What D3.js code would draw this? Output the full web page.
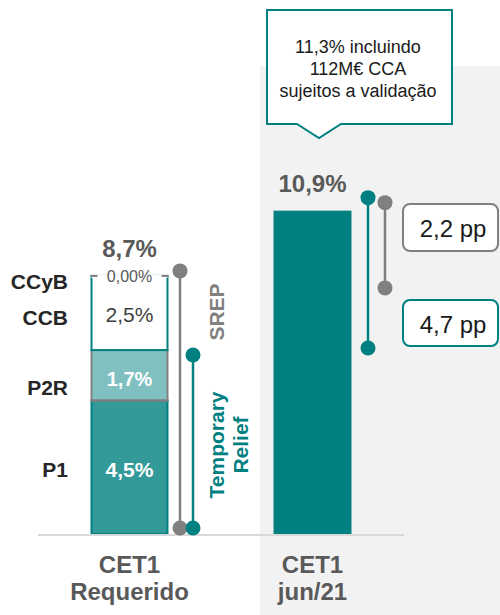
<!DOCTYPE html>
<html>
<head>
<meta charset="utf-8">
<script src="https://cdn.jsdelivr.net/npm/d3@7"></script>
<style>
  html, body { margin: 0; padding: 0; background: #fff; }
  svg { display: block; font-family: "Liberation Sans", Arial, sans-serif; }
</style>
</head>
<body>
<svg id="chart" width="500" height="615"></svg>
<script>
// Capital requirement components (CET1 Requerido), in %
const components = ["P1", "P2R", "CCB", "CCyB"];
const componentValues = [4.5, 1.7, 2.5, 0.0];
const componentLabels = ["4,5%", "1,7%", "2,5%", "0,00%"];

// Bars on the category axis
const categories = ["CET1 Requerido", "CET1 jun/21"];
const categoryLines = [["CET1", "Requerido"], ["CET1", "jun/21"]];
const actualValue = 10.9;
const totalLabels = ["8,7%", "10,9%"];

// Buffers over requirement
const bufferLabels = ["2,2 pp", "4,7 pp"];
const bufferValues = [2.2, 4.7];
const calloutLines = ["11,3% incluindo", "112M€ CCA", "sujeitos a validação"];

const TEAL = "#008080";
const GRAY = "#808080";
const svg = d3.select("#chart");

const x = d3.scaleBand().domain(categories).range([38, 404])
  .paddingInner(0.574).paddingOuter(0.287);
const y = d3.scaleLinear().domain([0, 12]).range([534, 178]);

// shaded panel behind the current CET1 bar
svg.append("rect").attr("x", 260).attr("y", 66).attr("width", 240).attr("height", 549)
  .attr("fill", "#f2f2f2");

// stacked requirement
const row = {};
components.forEach((c, i) => row[c] = componentValues[i]);
const stacked = d3.stack().keys(components)([row]);
const fills = { P1: "#339999", P2R: "#80c0c0", CCB: "#ffffff", CCyB: "none" };
const strokes = { P1: TEAL, P2R: GRAY, CCB: TEAL, CCyB: "none" };
const bx = x(categories[0]), bw = x.bandwidth();

stacked.forEach(s => {
  const d = s[0];
  if (s.key === "CCyB") return;
  svg.append("rect")
    .attr("x", bx + 1).attr("y", y(d[1]))
    .attr("width", bw - 2).attr("height", y(d[0]) - y(d[1]))
    .attr("fill", fills[s.key]).attr("stroke", strokes[s.key]).attr("stroke-width", 2);
});
// gray edge between P1 and P2R
const p2r = stacked[1][0];
svg.append("line").attr("x1", bx).attr("x2", bx + bw).attr("y1", y(p2r[0])).attr("y2", y(p2r[0]))
  .attr("stroke", GRAY).attr("stroke-width", 2);

// CCyB: zero-height segment drawn as a broken gray edge
const ccyb = stacked[3][0];
const topY = y(ccyb[1]);
svg.append("rect").attr("x", bx + 1).attr("y", topY - 1).attr("width", bw - 2).attr("height", 3).attr("fill", "#fff");
[[bx, bx + 7], [bx + bw - 7, bx + bw]].forEach(([a, b]) => {
  svg.append("line").attr("x1", a).attr("x2", b).attr("y1", topY).attr("y2", topY)
    .attr("stroke", GRAY).attr("stroke-width", 2);
});

// segment value labels
const inside = [
  { i: 0, dy: 2, color: "#fff", weight: "bold", size: 21 },
  { i: 1, dy: 4, color: "#fff", weight: "bold", size: 20 },
  { i: 2, dy: 2, color: "#404040", weight: "normal", size: 21 },
  { i: 3, dy: 1, color: "#595959", weight: "normal", size: 16 }
];
inside.forEach(o => {
  const d = stacked[o.i][0];
  svg.append("text").attr("x", bx + bw / 2).attr("y", y((d[0] + d[1]) / 2) + o.dy)
    .attr("text-anchor", "middle").attr("dominant-baseline", "central")
    .attr("fill", o.color).attr("font-weight", o.weight).attr("font-size", o.size)
    .text(componentLabels[o.i]);
});

// component names to the left
const nameDy = [2, 12, 5, 6];
components.forEach((c, i) => {
  const d = stacked[i][0];
  svg.append("text").attr("x", 68).attr("y", y((d[0] + d[1]) / 2) + nameDy[i])
    .attr("text-anchor", "end").attr("dominant-baseline", "central")
    .attr("fill", "#262626").attr("font-weight", "bold").attr("font-size", 21)
    .text(c);
});

// current CET1 bar
const total = d3.sum(componentValues);
const b2x = x(categories[1]);
svg.append("rect").attr("x", b2x).attr("y", y(actualValue))
  .attr("width", x.bandwidth()).attr("height", y(0) - y(actualValue)).attr("fill", TEAL);

// totals above bars
[[categories[0], total], [categories[1], actualValue]].forEach(([c, v], i) => {
  svg.append("text").attr("x", x(c) + x.bandwidth() / 2).attr("y", y(v) - 19)
    .attr("text-anchor", "middle").attr("fill", "#595959")
    .attr("font-weight", "bold").attr("font-size", 24).text(totalLabels[i]);
});

// baseline
svg.append("line").attr("x1", 38).attr("x2", 404).attr("y1", 535).attr("y2", 535)
  .attr("stroke", "#d9d9d9").attr("stroke-width", 2);

// range markers: line with end dots
function marker(xp, y1, y2, color) {
  svg.append("line").attr("x1", xp).attr("x2", xp).attr("y1", y1).attr("y2", y2)
    .attr("stroke", color).attr("stroke-width", 2.5);
  [y1, y2].forEach(yy => svg.append("circle").attr("cx", xp).attr("cy", yy).attr("r", 7.5).attr("fill", color));
}
const baseDot = y(0) - 6;
marker(180, y(total) - 5, baseDot, GRAY);
marker(193, y(componentValues[0] + componentValues[1]) + 5, baseDot, TEAL);

// rotated labels for the markers
function vtext(cx, cy, txt, color, size) {
  svg.append("text").attr("transform", `translate(${cx},${cy}) rotate(-90)`)
    .attr("text-anchor", "middle").attr("dominant-baseline", "central")
    .attr("fill", color).attr("font-weight", "bold").attr("font-size", size).text(txt);
}
vtext(216, 312, "SREP", GRAY, 21);
vtext(216, 445, "Temporary", TEAL, 21);
vtext(240, 445, "Relief", TEAL, 21);

// buffer markers next to the current bar
marker(368, y(actualValue) - 13, y(actualValue - bufferValues[1]) - 2, TEAL);
marker(385, y(actualValue) - 8, y(actualValue - bufferValues[0]) + 12, GRAY);

// buffer boxes
[[204, 47, GRAY, bufferLabels[0]], [300, 46, TEAL, bufferLabels[1]]].forEach(([by, bh, col, txt]) => {
  svg.append("rect").attr("x", 403).attr("y", by).attr("width", 95).attr("height", bh)
    .attr("rx", 7).attr("fill", "#fff").attr("stroke", col).attr("stroke-width", 2);
  svg.append("text").attr("x", 453).attr("y", by + bh / 2 + 1)
    .attr("text-anchor", "middle").attr("dominant-baseline", "central")
    .attr("fill", "#1a1a1a").attr("font-size", 24).text(txt);
});

// callout above the current bar
const cx0 = 267, cx1 = 452, cy0 = 10, cy1 = 124, tipX = 319;
svg.append("path")
  .attr("d", `M${cx0},${cy0}H${cx1}V${cy1}H${tipX + 22}L${tipX},${cy1 + 14}L${tipX - 22},${cy1}H${cx0}Z`)
  .attr("fill", "#fff").attr("stroke", TEAL).attr("stroke-width", 2);
calloutLines.forEach((t, i) => {
  svg.append("text").attr("x", 358).attr("y", 47 + i * 22)
    .attr("text-anchor", "middle").attr("dominant-baseline", "central")
    .attr("fill", "#1a1a1a").attr("font-size", 18).text(t);
});

// category axis
const axis = svg.append("g").attr("transform", "translate(0,535)")
  .call(d3.axisBottom(x).tickSize(0).tickFormat(""));
axis.select(".domain").remove();
axis.selectAll(".tick").each(function (d, i) {
  const t = d3.select(this).append("text").attr("text-anchor", "middle")
    .attr("fill", "#595959").attr("font-weight", "bold").attr("font-size", 24)
    .attr("font-family", "Liberation Sans, Arial, sans-serif");
  categoryLines[i].forEach((ln, j) => {
    t.append("tspan").attr("x", 0).attr("y", 38 + j * 27).text(ln);
  });
});
</script>
</body>
</html>
